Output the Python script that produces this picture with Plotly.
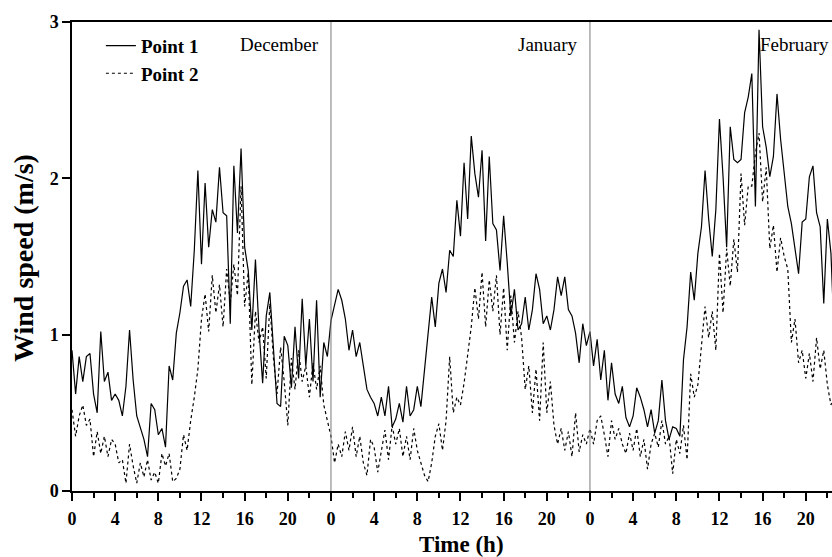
import numpy as np
import plotly.graph_objects as go

# ---------------- data (20-min samples, 3 per hour) ----------------
MONTHS = ["December", "January", "February"]
HOUR_LABELS = ["0", "4", "8", "12", "16", "20"]
SAMPLES_PER_HOUR = 3

DEC_P1 = [
    0.90, 0.62, 0.86, 0.70, 0.86, 0.88, 0.62, 0.50, 1.02, 0.70, 0.76, 0.58,
    0.62, 0.58, 0.48, 0.67, 1.03, 0.71, 0.48, 0.40, 0.33, 0.22, 0.56, 0.52,
    0.36, 0.40, 0.28, 0.80, 0.71, 1.01, 1.14, 1.31, 1.35, 1.18, 1.54, 2.05,
    1.45, 1.97, 1.56, 1.80, 1.72, 2.07, 1.78, 1.76, 1.07, 2.08, 1.65, 2.19,
    1.56, 1.41, 1.03, 1.48, 1.03, 0.69, 1.12, 1.27, 0.92, 0.56, 0.54, 0.99,
    0.93, 0.66, 1.05, 0.72, 1.23, 0.80, 1.10, 0.70, 1.22, 0.60, 0.95, 0.86,
]
DEC_P2 = [
    0.52, 0.35, 0.48, 0.55, 0.42, 0.46, 0.22, 0.38, 0.24, 0.35, 0.22, 0.33,
    0.30, 0.18, 0.20, 0.05, 0.30, 0.16, 0.05, 0.18, 0.09, 0.20, 0.07, 0.12,
    0.05, 0.24, 0.16, 0.24, 0.06, 0.08, 0.14, 0.36, 0.26, 0.45, 0.60, 0.78,
    1.10, 1.26, 1.02, 1.38, 1.14, 1.32, 1.05, 1.42, 1.20, 1.45, 1.25, 1.95,
    1.18, 1.40, 0.68, 1.15, 0.95, 1.05, 0.72, 1.20, 0.85, 0.62, 0.92, 0.70,
    0.42, 0.85, 0.65, 0.90, 0.70, 0.80, 0.60, 0.82, 0.65, 0.80, 0.55, 0.45,
]
JAN_P1 = [
    1.09, 1.20, 1.29, 1.22, 1.10, 0.90, 1.03, 0.86, 0.95, 0.80, 0.65, 0.60,
    0.56, 0.48, 0.60, 0.48, 0.67, 0.41, 0.46, 0.56, 0.44, 0.67, 0.48, 0.52,
    0.67, 0.54, 0.77, 0.99, 1.24, 1.05, 1.33, 1.42, 1.27, 1.54, 1.50, 1.86,
    1.63, 2.10, 1.74, 2.27, 2.03, 1.88, 2.18, 1.60, 2.14, 1.71, 1.67, 1.41,
    1.76, 1.46, 1.12, 1.29, 1.03, 1.07, 1.24, 1.03, 1.16, 1.39, 1.29, 1.07,
    1.12, 1.03, 1.16, 1.37, 1.25, 1.37, 1.16, 1.12, 1.01, 0.82, 1.07, 0.93,
]
JAN_P2 = [
    0.35, 0.18, 0.30, 0.22, 0.38, 0.26, 0.41, 0.22, 0.35, 0.18, 0.10, 0.33,
    0.28, 0.12, 0.26, 0.39, 0.20, 0.42, 0.30, 0.40, 0.22, 0.35, 0.20, 0.40,
    0.26, 0.18, 0.10, 0.06, 0.18, 0.35, 0.43, 0.26, 0.45, 0.86, 0.50, 0.60,
    0.55, 0.69, 0.88, 1.05, 1.30, 1.10, 1.40, 1.05, 1.35, 1.15, 1.38, 1.00,
    1.30, 0.90, 1.25, 0.95, 1.15, 0.98, 0.65, 0.80, 0.50, 0.78, 0.45, 0.95,
    0.50, 0.70, 0.42, 0.30, 0.40, 0.26, 0.38, 0.22, 0.50, 0.25, 0.36, 0.30,
]
FEB_P1 = [
    1.02, 0.80, 0.97, 0.71, 0.90, 0.58, 0.82, 0.62, 0.56, 0.67, 0.47, 0.41,
    0.48, 0.66, 0.60, 0.52, 0.41, 0.52, 0.37, 0.45, 0.71, 0.45, 0.33, 0.41,
    0.40, 0.35, 0.84, 1.05, 1.40, 1.22, 1.52, 1.69, 2.05, 1.74, 1.50, 1.80,
    2.38, 2.01, 1.56, 2.33, 2.12, 2.10, 2.12, 2.42, 2.52, 2.67, 1.82, 2.95,
    2.33, 2.20, 2.01, 2.14, 2.54, 2.25, 2.05, 1.82, 1.71, 1.55, 1.39, 1.72,
    1.74, 2.01, 2.08, 1.78, 1.69, 1.20, 1.74, 1.52, 0.94,
]
FEB_P2 = [
    0.40, 0.30, 0.45, 0.48, 0.36, 0.22, 0.45, 0.33, 0.40, 0.30, 0.24, 0.37,
    0.26, 0.40, 0.22, 0.33, 0.14, 0.30, 0.37, 0.28, 0.45, 0.30, 0.35, 0.11,
    0.33, 0.24, 0.42, 0.20, 0.75, 0.60, 0.68, 0.95, 1.18, 0.98, 1.15, 0.90,
    1.52, 1.14, 1.55, 1.31, 1.61, 1.40, 2.03, 1.70, 1.95, 1.95, 2.16, 2.29,
    1.85, 2.07, 1.55, 1.70, 1.40, 1.62, 1.50, 1.42, 0.95, 1.10, 0.82, 0.90,
    0.72, 0.88, 0.70, 0.98, 0.78, 0.90, 0.68, 0.55, 0.62,
]

SERIES = {
    "Point 1": [DEC_P1, JAN_P1, FEB_P1],
    "Point 2": [DEC_P2, JAN_P2, FEB_P2],
}
STYLES = {"Point 1": "solid", "Point 2": "dot"}

X_MAX = 70.43  # visible end of the (cropped) February panel

FONT = "Liberation Serif"


def build_xy(parts):
    xs, ys = [], []
    for m, vals in enumerate(parts):
        xs.extend(m * 24 + np.arange(len(vals)) / SAMPLES_PER_HOUR)
        ys.extend(vals)
    return xs, ys


fig = go.Figure()
for name, parts in SERIES.items():
    x, y = build_xy(parts)
    fig.add_trace(go.Scatter(
        x=x, y=y, mode="lines", name=name,
        line=dict(color="black", width=1.2, dash=STYLES[name]),
    ))

n_months = len(MONTHS)
tickvals = [m * 24 + int(h) for m in range(n_months) for h in HOUR_LABELS]
ticktext = [h for m in range(n_months) for h in HOUR_LABELS]
minorvals = [m * 24 + int(h) + 2 for m in range(n_months) for h in HOUR_LABELS]

shapes = []
for m in range(1, n_months):
    shapes.append(dict(type="line", xref="x", yref="paper", x0=m * 24, x1=m * 24,
                       y0=0, y1=1, line=dict(color="#7a7a7a", width=1)))

annotations = []
for m, label in enumerate(MONTHS):
    xr = min(((m + 1) * 24 - 0.9) / X_MAX, 0.999)
    annotations.append(dict(
        text=label, xref="paper", yref="paper",
        x=xr, y=0.951, xanchor="right", yanchor="middle",
        showarrow=False, font=dict(family=FONT, size=19, color="black"),
    ))
annotations.append(dict(
    text="<b>Time (h)</b>", xref="paper", yref="paper", x=0.513, y=-0.115,
    xanchor="center", yanchor="middle", showarrow=False,
    font=dict(family=FONT, size=23, color="black"),
))
annotations.append(dict(
    text="<b>Wind speed (m/s)</b>", xref="paper", yref="paper", x=-0.063, y=0.497,
    xanchor="center", yanchor="middle", textangle=-90, showarrow=False,
    font=dict(family=FONT, size=28, color="black"),
))

fig.update_layout(
    width=832, height=557,
    margin=dict(l=72, r=0, t=22, b=66),
    paper_bgcolor="white", plot_bgcolor="white",
    showlegend=True,
    legend=dict(x=0.038, y=0.99, xanchor="left", yanchor="top",
                bgcolor="rgba(0,0,0,0)", borderwidth=0,
                font=dict(family=FONT, size=19, color="black", weight="bold"),
                tracegroupgap=0),
    xaxis=dict(range=[0, X_MAX], tickmode="array", tickvals=tickvals, ticktext=ticktext,
               ticks="outside", ticklen=8, tickwidth=1.5, tickcolor="black",
               ticklabelstandoff=3,
               showline=True, linecolor="black", linewidth=1.5, mirror=True,
               showgrid=False, zeroline=False,
               tickfont=dict(family=FONT, size=18, color="black", weight="bold"),
               minor=dict(tickvals=minorvals, ticks="outside", ticklen=5,
                          tickwidth=1.5, tickcolor="black", showgrid=False)),
    yaxis=dict(range=[0, 3], tickmode="array", tickvals=[0, 1, 2, 3],
               ticks="outside", ticklen=8, tickwidth=1.5, tickcolor="black",
               showline=True, linecolor="black", linewidth=1.5,
               showgrid=False, zeroline=False,
               tickfont=dict(family=FONT, size=18, color="black", weight="bold")),
    shapes=shapes,
    annotations=annotations,
)

fig.write_html("out.html")
